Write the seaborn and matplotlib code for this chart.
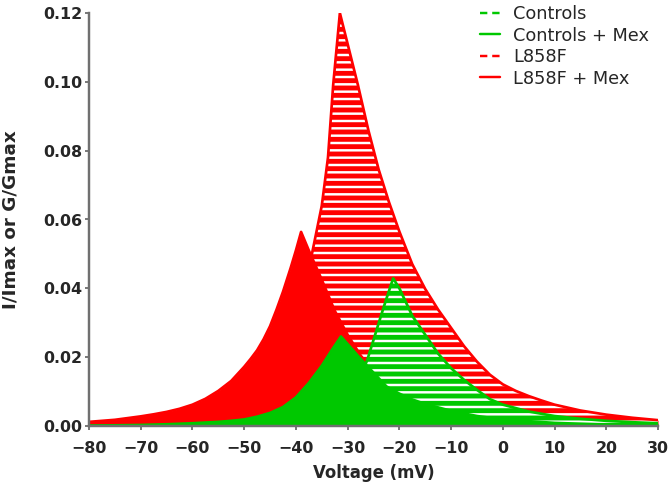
import numpy as np
import pandas as pd
import matplotlib
matplotlib.use("Agg")
import matplotlib.pyplot as plt
from matplotlib.lines import Line2D
import seaborn as sns

sns.set_style("ticks")
plt.rcParams["font.family"] = ["DejaVu Sans"]
plt.rcParams["hatch.linewidth"] = 2.0

# window current areas
ctrl_v = [-80, -50, -40, -35, -32.5, -30, -27.5, -26.2, -25, -23.6, -22.5, -21.2, -20, -17.5,
          -15, -12.5, -10, -7.5, -5, -2.5, 0, 5, 10, 15, 20, 25, 30]
ctrl_i = [0.0, 0.0002, 0.0012, 0.0033, 0.0055, 0.009, 0.0145, 0.0192, 0.025, 0.0318, 0.037,
          0.0429, 0.040, 0.032, 0.0265, 0.021, 0.0168, 0.0134, 0.0105, 0.0078, 0.0062, 0.0042,
          0.0029, 0.0021, 0.0015, 0.0011, 0.0008]

ctrl_mex_v = [-80, -70, -65, -60, -55, -52.5, -50, -47.5, -45, -42.5, -40, -37.5, -35, -33, -31.3,
              -30, -27.5, -25, -22.5, -20, -17.5, -15, -10, -5, 0, 10, 20, 30]
ctrl_mex_i = [0.0001, 0.0003, 0.0005, 0.0008, 0.0012, 0.0015, 0.0019, 0.0027, 0.0038, 0.0055,
              0.0083, 0.0125, 0.0175, 0.0222, 0.026, 0.0238, 0.0195, 0.0155, 0.0115, 0.0094,
              0.0077, 0.0064, 0.0044, 0.0029, 0.0019, 0.0009, 0.0004, 0.0002]

l858f_v = [-80, -70, -60, -55, -50, -45, -40, -36.9, -35, -33.8, -32.8, -31.5, -30, -28, -26, -24,
           -22, -20, -17.5, -15, -12.5, -10, -7.5, -5, -2.5, 0, 2.5, 5, 7.5, 10, 15, 20, 25, 30]
l858f_i = [0.0002, 0.0006, 0.002, 0.004, 0.008, 0.016, 0.033, 0.050, 0.064, 0.078, 0.099, 0.12,
           0.111, 0.099, 0.086, 0.0745, 0.065, 0.0565, 0.047, 0.0398, 0.0338, 0.0285, 0.0232,
           0.0187, 0.0149, 0.0121, 0.0102, 0.0087, 0.0074, 0.0062, 0.0045, 0.0033, 0.0024,
           0.0017]

l858f_mex_v = [-80, -77.5, -75, -72.5, -70, -67.5, -65, -62.5, -60, -57.5, -55, -52.5, -50,
               -48.75, -47.5, -46.25, -45, -43.75, -42.5, -41, -40, -39, -37.5, -35, -32.5, -30,
               -27.5, -25, -22.5, -20, -15, -10, -5, 0, 10, 20, 30]
l858f_mex_i = [0.0012, 0.0015, 0.0018, 0.0023, 0.0028, 0.0034, 0.0041, 0.005, 0.0062, 0.0079,
               0.0102, 0.0131, 0.0172, 0.0195, 0.022, 0.0252, 0.029, 0.0338, 0.039, 0.046,
               0.051, 0.0564, 0.051, 0.0425, 0.0335, 0.0265, 0.0205, 0.016, 0.0125, 0.0097,
               0.0059, 0.0036, 0.0022, 0.0013, 0.0005, 0.0002, 0.0001]

labels = ["Controls", "Controls + Mex", "L858F", "L858F + Mex"]
red = "#ff0000"
green = "#00c800"

DPI = 88
fig, ax = plt.subplots(figsize=(670 / DPI, 488 / DPI), dpi=DPI)
fig.subplots_adjust(left=89 / 670, right=658 / 670, bottom=1 - 426 / 488, top=1 - 13 / 488)


def area(v, i, color, hatched, z):
    ax.fill_between(v, 0, i, color=color, lw=0, zorder=z)
    if hatched:
        ax.fill_between(v, 0, i, facecolor="none", edgecolor="white", hatch="--", lw=0,
                        zorder=z + 0.1)
    sns.lineplot(x=v, y=i, color=color, lw=2.2, sort=False, legend=False, ax=ax,
                 zorder=z + 0.2)


# drawing order matters: hatched below solid
area(l858f_v, l858f_i, red, True, 1)
area(l858f_mex_v, l858f_mex_i, red, False, 2)
area(ctrl_v, ctrl_i, green, True, 3)
area(ctrl_mex_v, ctrl_mex_i, green, False, 4)

ax.set_xlim(-80, 30)
ax.set_ylim(0, 0.12)
ax.set_xticks(np.arange(-80, 31, 10))
ax.set_yticks(np.arange(0, 0.121, 0.02))
ax.yaxis.set_major_formatter(matplotlib.ticker.FormatStrFormatter("%.2f"))
sns.despine(ax=ax)
for s in ["left", "bottom"]:
    ax.spines[s].set_color("#707070")
    ax.spines[s].set_linewidth(2)
    ax.spines[s].set_zorder(10)
ax.tick_params(direction="out", length=3.5, width=1.5, color="#707070", labelsize=13)
ax.tick_params(axis="x", pad=9)
ax.tick_params(axis="y", pad=2)
for t in ax.get_xticklabels() + ax.get_yticklabels():
    t.set_fontweight("bold")
ax.set_xlabel("Voltage (mV)", fontsize=13.5, fontweight="bold")
ax.set_ylabel("I/Imax or G/Gmax", fontsize=15, fontweight="bold")
ax.xaxis.set_label_coords(0.5, (426 - 464) / 413)
ax.yaxis.set_label_coords((19 - 89) / 569, 0.5)

handles = [Line2D([], [], color=green, lw=2, ls=(0, (3, 2))),
           Line2D([], [], color=green, lw=2),
           Line2D([], [], color=red, lw=2, ls=(0, (3, 2))),
           Line2D([], [], color=red, lw=2)]
ax.legend(handles, labels, loc="upper left", bbox_to_anchor=(480 / 670, 1 - 5 / 488),
          bbox_transform=fig.transFigure, frameon=False, fontsize=14.5, handlelength=1.15,
          handletextpad=0.7, labelspacing=0.2, borderaxespad=0, borderpad=0)

fig.savefig("out.png", dpi=DPI)
